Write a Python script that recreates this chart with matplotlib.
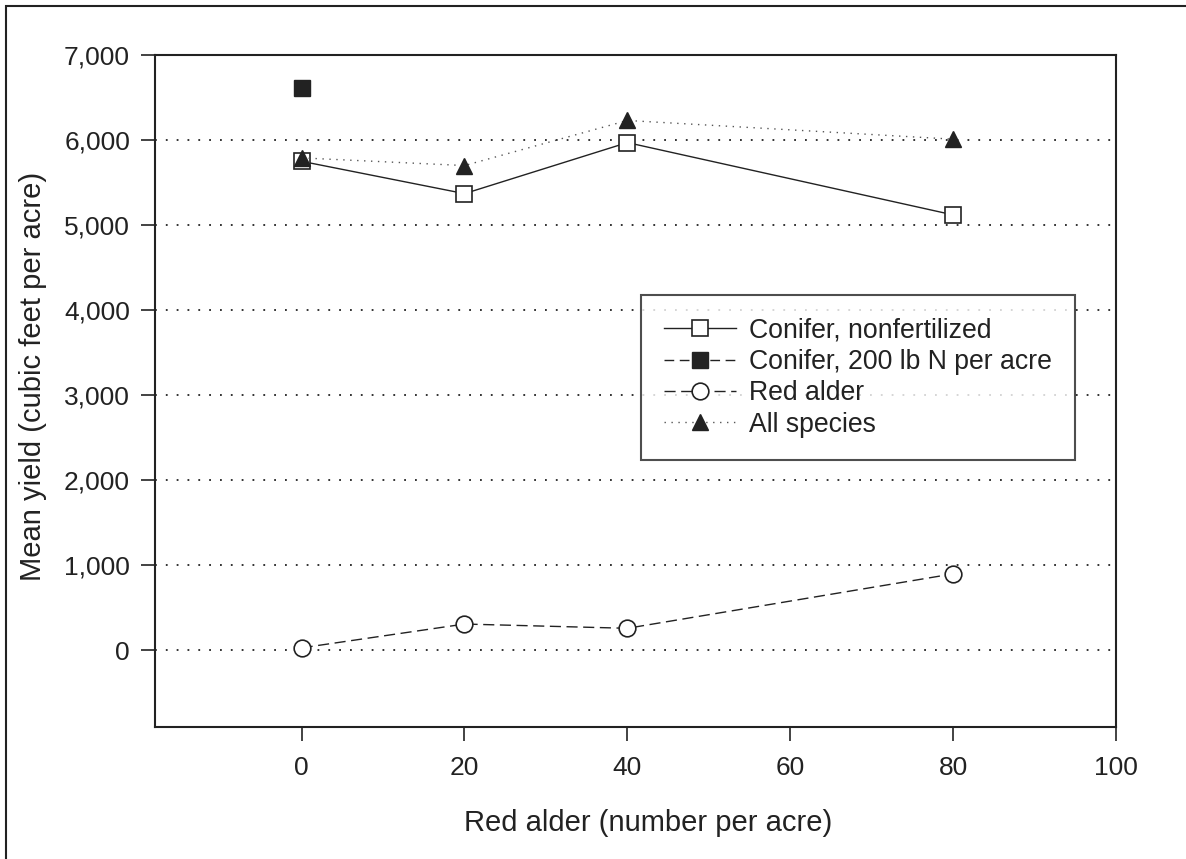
import matplotlib.pyplot as plt
from matplotlib.patches import Rectangle

plt.rcParams['font.family'] = ['Liberation Sans', 'DejaVu Sans']

# data
alder_x = [0, 20, 40, 80]
conifer_nofert = [5750, 5370, 5970, 5120]
fert_x = [0]
conifer_fert = [6610]
red_alder = [30, 310, 260, 900]
all_species = [5790, 5700, 6230, 6010]
y_ticks = [0, 1000, 2000, 3000, 4000, 5000, 6000, 7000]
x_ticks = [0, 20, 40, 60, 80, 100]

ink = '#222222'

fig = plt.figure(figsize=(11.86, 8.59), dpi=100)
ax = fig.add_axes([0.1307, 0.1537, 0.8103, 0.7823])

# outer frame (only top and left edges visible)
fig.add_artist(Rectangle((6 / 1186, -0.5), 2.0, 1.5 - 6 / 859, transform=fig.transFigure,
                         fill=False, edgecolor=ink, linewidth=1.5))

for yv in y_ticks[:-1]:
    ax.axhline(yv, color=ink, linestyle=(0, (1, 5)), linewidth=1.3, zorder=1)

ax.plot(alder_x, conifer_nofert, color=ink, linestyle='-', linewidth=1.0,
        marker='s', markersize=11, markerfacecolor='white', markeredgecolor=ink,
        markeredgewidth=1.2, label='Conifer, nonfertilized', zorder=3)
ax.plot(fert_x, conifer_fert, color=ink, linestyle=(0, (7, 4)), linewidth=1.0,
        marker='s', markersize=11, markerfacecolor=ink, markeredgecolor=ink,
        label='Conifer, 200 lb N per acre', zorder=3)
ax.plot(alder_x, red_alder, color=ink, linestyle=(0, (8, 4)), linewidth=1.0,
        marker='o', markersize=12, markerfacecolor='white', markeredgecolor=ink,
        markeredgewidth=1.2, label='Red alder', zorder=3)
ax.plot(alder_x, all_species, color='#555555', linestyle=(0, (1, 4)), linewidth=1.0,
        marker='^', markersize=12, markerfacecolor=ink, markeredgecolor=ink,
        label='All species', zorder=4)

ax.set_xlim(-18, 100)
ax.set_ylim(-900, 7000)
ax.set_xticks(x_ticks)
ax.set_yticks(y_ticks)
ax.set_yticklabels([f'{v:,}' for v in y_ticks])
ax.tick_params(axis='both', direction='out', length=10, width=1.2, color=ink,
               labelsize=19, labelcolor=ink, pad=8)
ax.tick_params(axis='x', pad=11)
for s in ax.spines.values():
    s.set_color(ink)
    s.set_linewidth(1.5)

ax.set_xlabel('Red alder (number per acre)', fontsize=21, color=ink, labelpad=21)
ax.set_ylabel('Mean yield (cubic feet per acre)', fontsize=21, color=ink, labelpad=12)
ax.xaxis.label.set_x(0.513)
ax.yaxis.label.set_y(0.521)

leg = ax.legend(loc='upper left', bbox_to_anchor=(641 / 1186, 1 - 295 / 859),
                bbox_transform=fig.transFigure, borderaxespad=0, fontsize=19.2,
                frameon=True, fancybox=False, handlelength=2.7, handletextpad=0.5,
                labelspacing=0.2, borderpad=0.85, labelcolor=ink)
leg.get_frame().set_edgecolor(ink)
leg.get_frame().set_linewidth(1.5)

plt.savefig('out.png', dpi=100)
